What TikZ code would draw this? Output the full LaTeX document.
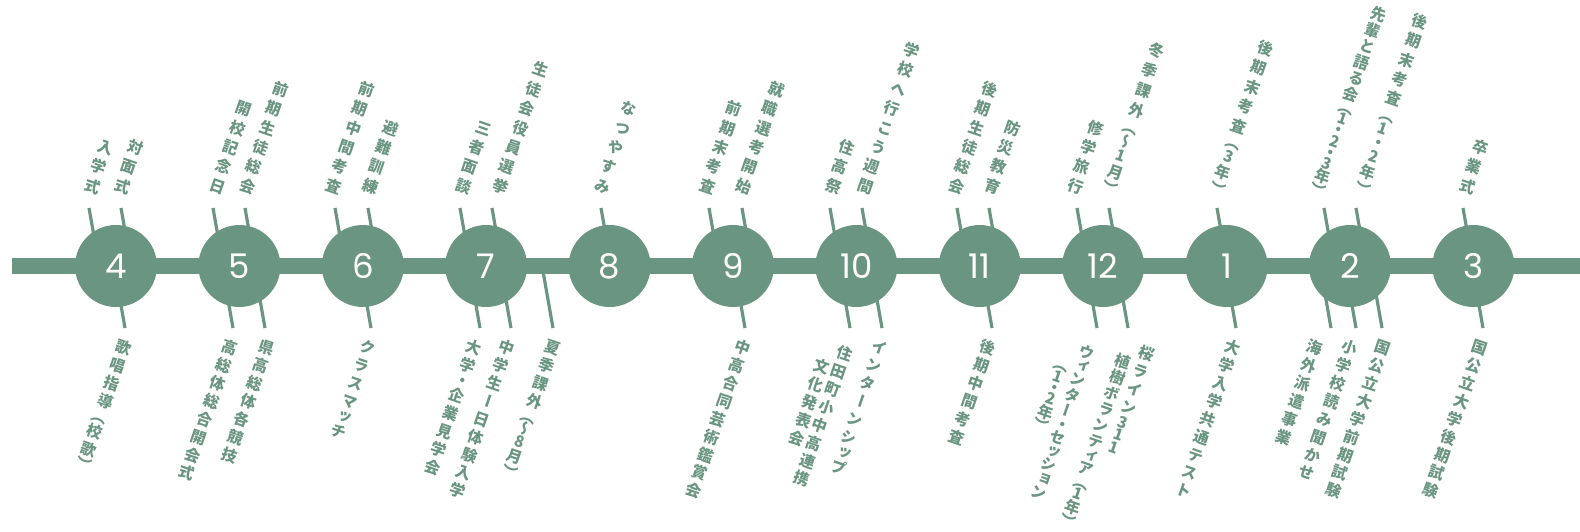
\documentclass[tikz,border=0pt]{standalone}
\usepackage{fontspec}
\newfontfamily\tatefont{Noto Sans CJK JP}[Script=CJK,RawFeature=+vert]
\newfontfamily\numfont{Poppins}
\definecolor{sage}{HTML}{6B9583}

\makeatletter
\newlength\tatepitch
\setlength\tatepitch{20pt}
\newcommand\tate[2][\tatepitch]{\vbox{\offinterlineskip\tatepitch=#1\relax\tate@#2\tate@end}}
\def\tate@end{\tate@end}
\def\tate@#1{\ifx#1\tate@end\else\tate@slot{#1}\expandafter\tate@\fi}
\def\tate@slot#1{\in@{#1}{ィッョャュァェォっゃゅょ・（）〜0123456789}%
  \ifin@\tate@box{0.7}{#1}\else\tate@box{1}{#1}\fi}
\def\tate@box#1#2{\hbox to 1em{\vrule width 0pt height \dimexpr 0.38em+#1\tatepitch/2\relax
  depth \dimexpr #1\tatepitch/2-0.38em\relax\hss\smash{#2}\hss}}
\makeatother

\tikzset{
  month/.style={circle,fill=sage,inner sep=0pt,minimum size=82pt,text=white,
    font=\numfont\fontsize{34}{34}\selectfont},
  stem/.style={draw=sage,line width=3.2pt},
  upper/.style={anchor=south,rotate=-19,inner sep=0pt,text=sage,
    font=\tatefont\bfseries\fontsize{15.5}{20}\selectfont,
    execute at begin node={\tatepitch=20.5pt}},
  lower/.style={upper,anchor=north,execute at begin node={\tatepitch=19pt}},
}

\begin{document}
\begin{tikzpicture}[x=1pt,y=-1pt]
  \useasboundingbox (0,0) rectangle (1580,531);
  \foreach \x in {89,121,213,245,335,368,460,492,601,709,742,830,862,957,989,1077,1109,1217,1324,1356,1463}
    \draw[stem] (\x,208) -- ++(80:36);
  \foreach \x in {125,233,265,371,480,511,745,850,882,992,1097,1128,1236,1331,1356,1382,1483}
    \draw[stem] (\x,328) -- ++(-100:36);
  \draw[stem] (553,328) -- ++(-100:58);

  \coordinate (west) at (12,266);
  \coordinate (east) at (1580,266);
  \draw[sage,line width=16pt] (west) -- (east);

  \foreach \m [count=\i from 0] in {4,5,6,7,8,9,10,11,12,1,2,3}
    \node[month] (m\m) at ({116+123.4*\i},266) {\m};

  \node[upper] (u4a) at (89,196) {\tate{入学式}};
  \node[upper] (u4b) at (119,196) {\tate{対面式}};
  \node[upper] (u5a) at (214,196) {\tate{開校記念日}};
  \node[upper] (u5b) at (244,196) {\tate{前期生徒総会}};
  \node[upper] (u6a) at (330,196) {\tate{前期中間考査}};
  \node[upper] (u6b) at (367,196) {\tate{避難訓練}};
  \node[upper] (u7a) at (460,196) {\tate{三者面談}};
  \node[upper] (u7b) at (497,196) {\tate{生徒会役員選挙}};
  \node[upper] (u8a) at (599,196) {\tate{なつやすみ}};
  \node[upper] (u9a) at (704,196) {\tate{前期末考査}};
  \node[upper] (u9b) at (740,196) {\tate{就職選考開始}};
  \node[upper] (u10a) at (830,196) {\tate{住高祭}};
  \node[upper] (u10b) at (862,196) {\tate{学校へ行こう週間}};
  \node[upper] (u11a) at (953,196) {\tate{後期生徒総会}};
  \node[upper] (u11b) at (989,196) {\tate{防災教育}};
  \node[upper] (u12a) at (1072,196) {\tate{修学旅行}};
  \node[upper] (u12b) at (1107,196) {\tate[21pt]{冬季課外（〜1月）}};
  \node[upper] (u1a) at (1215,196) {\tate{後期末考査（3年）}};
  \node[upper] (u2a) at (1316,196) {\tate[16.8pt]{先輩と語る会（1・2・3年）}};
  \node[upper] (u2b) at (1360,196) {\tate{後期末考査（1・2年）}};
  \node[upper] (u3a) at (1464,196) {\tate{卒業式}};

  \node[lower] (d4a) at (127,338) {\tate{歌唱指導（校歌）}};
  \node[lower] (d5a) at (233,338) {\tate{高総体総合開会式}};
  \node[lower] (d5b) at (270,338) {\tate{県高総体各競技}};
  \node[lower] (d6a) at (371,338) {\tate{クラスマッチ}};
  \node[lower] (d7a) at (477,338) {\tate{大学・企業見学会}};
  \node[lower] (d7b) at (510,338) {\tate{中学生ー日体験入学}};
  \node[lower] (d7c) at (556,338) {\tate{夏季課外（〜8月）}};
  \node[lower] (d9a) at (746,338) {\tate{中高合同芸術鑑賞会}};
  \node[lower] (d10a) at (848,344) {\tate{住田町小中高連携}};
  \node[lower] (d10b) at (825,357) {\tate{文化発表会}};
  \node[lower] (d10c) at (883,338) {\tate{インターンシップ}};
  \node[lower] (d11a) at (991,338) {\tate{後期中間考査}};
  \node[lower] (d12a) at (1090,344) {\tate[16.8pt]{ウィンター・セッション}};
  \node[lower] (d12b) at (1064,359) {\tate[17pt]{（1・2年）}};
  \node[lower] (d12c) at (1150,344) {\tate{桜ライン311}};
  \node[lower] (d12d) at (1126,353) {\tate[17pt]{植樹ボランティア（1年）}};
  \node[lower] (d1a) at (1236,338) {\tate{大学入学共通テスト}};
  \node[lower] (d2a) at (1318,338) {\tate{海外派遣事業}};
  \node[lower] (d2b) at (1353,338) {\tate{小学校読み聞かせ}};
  \node[lower] (d2c) at (1386,338) {\tate{国公立大学前期試験}};
  \node[lower] (d3a) at (1483,338) {\tate{国公立大学後期試験}};
\end{tikzpicture}
\end{document}
